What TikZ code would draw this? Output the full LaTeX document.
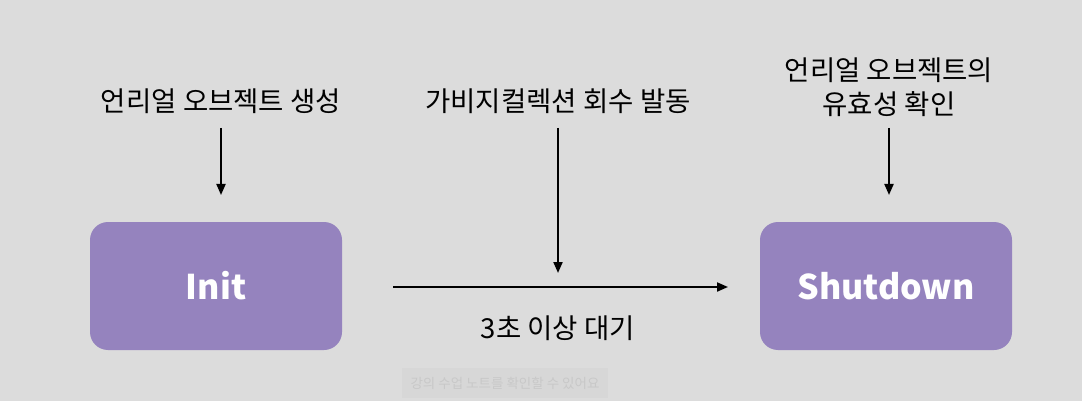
\documentclass[tikz,border=0pt]{standalone}
\usepackage{fontspec}
\setmainfont{Noto Sans CJK KR}
\usetikzlibrary{arrows.meta}
\definecolor{bg}{HTML}{DCDCDC}
\definecolor{boxpurple}{HTML}{9583BE}
\definecolor{capbox}{HTML}{D7D7D7}
\definecolor{captext}{HTML}{C8C8C8}
\tikzset{
  state/.style={fill=boxpurple, rounded corners=18pt, minimum width=252pt, minimum height=128pt, inner sep=0pt, text=white, font=\fontsize{34}{40}\selectfont\bfseries},
  label/.style={text=black, font=\fontsize{27.5}{34}\selectfont, align=center, inner sep=0pt},
  arr/.style={-{Triangle[length=11pt,width=9pt]}, line width=2pt, black},
}
\begin{document}
\begin{tikzpicture}[x=1pt,y=-1pt]
\fill[bg] (0,0) rectangle (1082,401);
\useasboundingbox (0,0) rectangle (1082,401);
\node[state] (init) at (216,286) {Init};
\node[state] (shut) at (886,286) {Shutdown};
\node[label] (t1) at (221,101) {언리얼 오브젝트 생성};
\node[label] (t2) at (558,101) {가비지컬렉션 회수 발동};
\node[label] (t3) at (889,87) {언리얼 오브젝트의\\유효성 확인};
\node[label] (t4) at (558,328) {3초 이상 대기};
\coordinate (a1s) at (221,128);
\coordinate (a1e) at (221,195);
\coordinate (a2s) at (558,128);
\coordinate (a2e) at (558,273);
\coordinate (a3s) at (889,128);
\coordinate (a3e) at (889,195);
\coordinate (hs) at (393,287);
\coordinate (he) at (728,287);
\draw[arr] (a1s) -- (a1e);
\draw[arr] (a2s) -- (a2e);
\draw[arr] (a3s) -- (a3e);
\draw[arr] (hs) -- (he);
\node[fill=capbox, minimum width=206pt, minimum height=30pt, inner sep=0pt, text=captext, font=\fontsize{13.5}{15}\selectfont] (cap) at (505,383) {강의 수업 노트를 확인할 수 있어요};
\end{tikzpicture}
\end{document}
